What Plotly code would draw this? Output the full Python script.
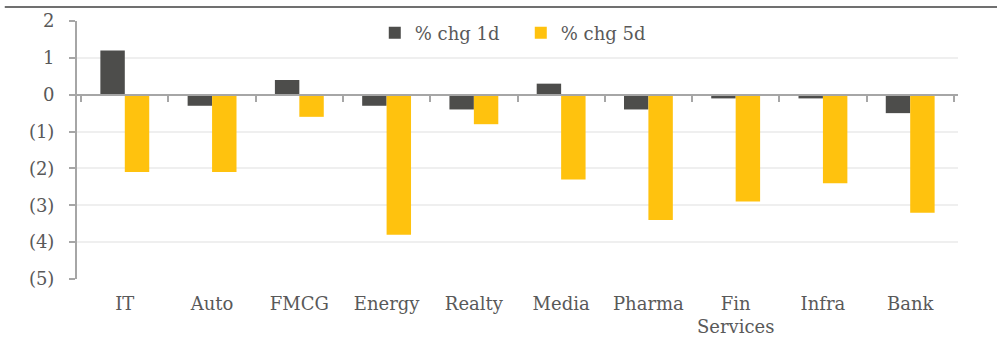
import plotly.graph_objects as go

# Sector returns, percent
sectors = ["IT", "Auto", "FMCG", "Energy", "Realty", "Media", "Pharma",
           "Fin<br>Services", "Infra", "Bank"]
chg_1d = [1.2, -0.3, 0.4, -0.3, -0.4, 0.3, -0.4, -0.1, -0.1, -0.5]
chg_5d = [-2.1, -2.1, -0.6, -3.8, -0.8, -2.3, -3.4, -2.9, -2.4, -3.2]

y_ticks = [2, 1, 0, -1, -2, -3, -4, -5]
y_tick_text = ["2", "1", "0", "(1)", "(2)", "(3)", "(4)", "(5)"]

FONT = "DejaVu Serif"
TEXT_COLOR = "#595959"
AXIS_COLOR = "#A6A6A6"
Y_MIN, Y_MAX = -5, 2

fig = go.Figure()
fig.add_trace(go.Bar(x=sectors, y=chg_1d, name="% chg 1d",
                     marker=dict(color="#4D4D4B", line=dict(width=0))))
fig.add_trace(go.Bar(x=sectors, y=chg_5d, name="% chg 5d",
                     marker=dict(color="#FFC20E", line=dict(width=0))))
# invisible trace carrying the category axis drawn through zero
fig.add_trace(go.Scatter(x=sectors, y=[None] * len(sectors), xaxis="x2",
                         showlegend=False, hoverinfo="skip"))

fig.update_layout(
    width=997, height=338,
    margin=dict(l=77, r=39, t=21, b=59, autoexpand=False),
    paper_bgcolor="white", plot_bgcolor="white",
    barmode="group", bargap=0.44, bargroupgap=0,
    font=dict(family=FONT, size=18, color=TEXT_COLOR),
    showlegend=True,
    legend=dict(orientation="h", x=0.338, y=0.953, xanchor="left",
                yanchor="middle", font=dict(size=18, color=TEXT_COLOR),
                entrywidth=101, entrywidthmode="pixels",
                itemwidth=30, bgcolor="rgba(0,0,0,0)"),
    xaxis=dict(showline=False, showgrid=False, ticks="", automargin=False,
               ticklabelstandoff=12,
               tickfont=dict(size=18, color=TEXT_COLOR)),
    xaxis2=dict(overlaying="x", matches="x", anchor="free",
                position=(0 - Y_MIN) / (Y_MAX - Y_MIN), automargin=False,
                showline=True, linecolor=AXIS_COLOR, linewidth=2,
                ticks="outside", tickson="boundaries", ticklen=6,
                tickwidth=1.5, tickcolor=AXIS_COLOR,
                showticklabels=False, showgrid=False),
    yaxis=dict(range=[Y_MIN, Y_MAX], tickvals=y_ticks, ticktext=y_tick_text,
               showgrid=True, gridcolor="#EFEFEF", gridwidth=1.5,
               zeroline=False, showline=True, linecolor=AXIS_COLOR,
               linewidth=2, ticks="outside", ticklen=6, tickwidth=1.5,
               tickcolor=AXIS_COLOR, ticklabelstandoff=11, automargin=False,
               tickfont=dict(size=18, color=TEXT_COLOR)),
    shapes=[dict(type="line", xref="paper", yref="paper",
                 x0=-0.082, x1=1.05, y0=1.054, y1=1.054,
                 line=dict(color="#404040", width=1.5))],
)

fig.write_html("out.html")
